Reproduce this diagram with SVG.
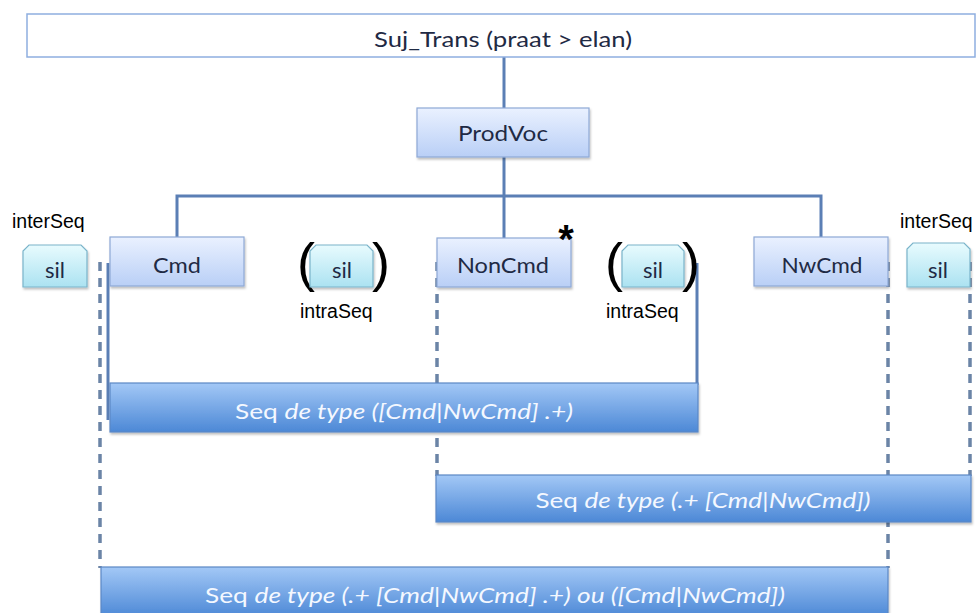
<svg xmlns="http://www.w3.org/2000/svg" width="977" height="613" viewBox="0 0 977 613">
<defs>
<linearGradient id="gNode" x1="0" y1="0" x2="0" y2="1">
<stop offset="0" stop-color="#eaf1ff"/><stop offset="1" stop-color="#b9cff6"/>
</linearGradient>
<linearGradient id="gSil" x1="0" y1="0" x2="0" y2="1">
<stop offset="0" stop-color="#e8fbfe"/><stop offset="1" stop-color="#abe2f1"/>
</linearGradient>
<linearGradient id="gSeq" x1="0" y1="0" x2="0" y2="1">
<stop offset="0" stop-color="#a3c8f6"/><stop offset="1" stop-color="#4c88d6"/>
</linearGradient>
<filter id="sh" x="-5%" y="-10%" width="110%" height="130%">
<feDropShadow dx="1" dy="2" stdDeviation="1.2" flood-color="#000" flood-opacity="0.25"/>
</filter>
</defs>
<style>
.conn{stroke:#5b7fb5;stroke-width:3;fill:none}
.dash{stroke:#6b84a6;stroke-width:3.5;fill:none;stroke-dasharray:9 7}
.node{fill:url(#gNode);stroke:#8ea8d6;stroke-width:1.2}
.sil{fill:url(#gSil);stroke:#7ab4ca;stroke-width:1.2}
.seq{fill:url(#gSeq);stroke:#5b87c5;stroke-width:1.2}
.lbl{font-family:Lato,"Open Sans","Liberation Sans",sans-serif;font-size:22px;fill:#1f2a44;text-anchor:middle}
.seqt{font-family:Lato,"Open Sans","Liberation Sans",sans-serif;font-size:21px;fill:#f4f8ff;text-anchor:middle}
.ar{font-family:"Liberation Sans",Arial,sans-serif;fill:#000}
.it{font-style:italic}
</style>
<rect width="977" height="613" fill="#fff"/>
<g id="connectors">
<line class="conn" x1="504" y1="57" x2="504" y2="108"/>
<line class="conn" x1="504" y1="157" x2="504" y2="196"/>
<polyline class="conn" points="177,237 177,196 821,196 821,237"/>
<line class="conn" x1="504" y1="196" x2="504" y2="238"/>
<line class="conn" x1="108" y1="263" x2="108" y2="420"/>
<line class="conn" x1="697" y1="263" x2="697" y2="385"/>
<line class="dash" x1="100" y1="262" x2="100" y2="568"/>
<line class="dash" x1="437" y1="262" x2="437" y2="476"/>
<line class="dash" x1="888" y1="262" x2="888" y2="568"/>
<line class="dash" x1="970" y1="262" x2="970" y2="476"/>
</g>
<g id="sujtrans">
<rect x="27" y="14" width="948" height="43" fill="#fff" stroke="#8eaee0" stroke-width="1.5"/>
<text class="lbl" x="503" y="47" textLength="258" lengthAdjust="spacingAndGlyphs">Suj_Trans (praat &gt; elan)</text>
</g>
<g id="prodvoc">
<rect class="node" x="417" y="108" width="172" height="49" filter="url(#sh)"/>
<text class="lbl" x="503" y="141" textLength="90" lengthAdjust="spacingAndGlyphs">ProdVoc</text>
</g>
<g id="cmd">
<rect class="node" x="110" y="237" width="134" height="49" filter="url(#sh)"/>
<text class="lbl" x="177" y="273" textLength="48" lengthAdjust="spacingAndGlyphs">Cmd</text>
</g>
<g id="noncmd">
<rect class="node" x="437" y="238" width="134" height="49" filter="url(#sh)"/>
<text class="lbl" x="503" y="273" textLength="92" lengthAdjust="spacingAndGlyphs">NonCmd</text>
<text class="ar" x="566" y="253" font-size="40" font-weight="bold" text-anchor="middle">*</text>
</g>
<g id="nwcmd">
<rect class="node" x="754" y="237" width="134" height="49" filter="url(#sh)"/>
<text class="lbl" x="822" y="273" textLength="81" lengthAdjust="spacingAndGlyphs">NwCmd</text>
</g>
<g id="sil-left">
<text class="ar" x="12" y="228" font-size="19.5">interSeq</text>
<path class="sil" d="M29,245 H81 L87,251 V287 H23 V251 Z" filter="url(#sh)"/>
<text class="lbl" x="55" y="278">sil</text>
</g>
<g id="sil-intra1">
<text class="ar" x="297" y="281" font-size="54">(</text>
<path class="sil" d="M316,245 H367 L373,251 V287 H310 V251 Z" filter="url(#sh)"/>
<text class="lbl" x="342" y="278">sil</text>
<text class="ar" x="372" y="281" font-size="54">)</text>
<text class="ar" x="300" y="318" font-size="19.5">intraSeq</text>
</g>
<g id="sil-intra2">
<text class="ar" x="605" y="281" font-size="54">(</text>
<path class="sil" d="M628,245 H678 L684,251 V287 H622 V251 Z" filter="url(#sh)"/>
<text class="lbl" x="653" y="278">sil</text>
<text class="ar" x="682" y="281" font-size="54">)</text>
<text class="ar" x="606" y="318" font-size="19.5">intraSeq</text>
</g>
<g id="sil-right">
<text class="ar" x="900" y="228" font-size="19.5">interSeq</text>
<path class="sil" d="M913,243 H964 L970,249 V287 H907 V249 Z" filter="url(#sh)"/>
<text class="lbl" x="938" y="278">sil</text>
</g>
<g id="seq1">
<rect class="seq" x="110" y="383" width="588" height="49" filter="url(#sh)"/>
<text class="seqt" x="404" y="419" textLength="338" lengthAdjust="spacingAndGlyphs">Seq <tspan class="it">de type ([Cmd|NwCmd] .+)</tspan></text>
</g>
<g id="seq2">
<rect class="seq" x="436" y="475" width="535" height="47" filter="url(#sh)"/>
<text class="seqt" x="703" y="508" textLength="335" lengthAdjust="spacingAndGlyphs">Seq <tspan class="it">de type (.+ [Cmd|NwCmd])</tspan></text>
</g>
<g id="seq3">
<rect class="seq" x="101" y="567" width="787" height="50" filter="url(#sh)"/>
<text class="seqt" x="495" y="603" textLength="580" lengthAdjust="spacingAndGlyphs">Seq <tspan class="it">de type (.+ [Cmd|NwCmd] .+) ou ([Cmd|NwCmd])</tspan></text>
</g>
</svg>
